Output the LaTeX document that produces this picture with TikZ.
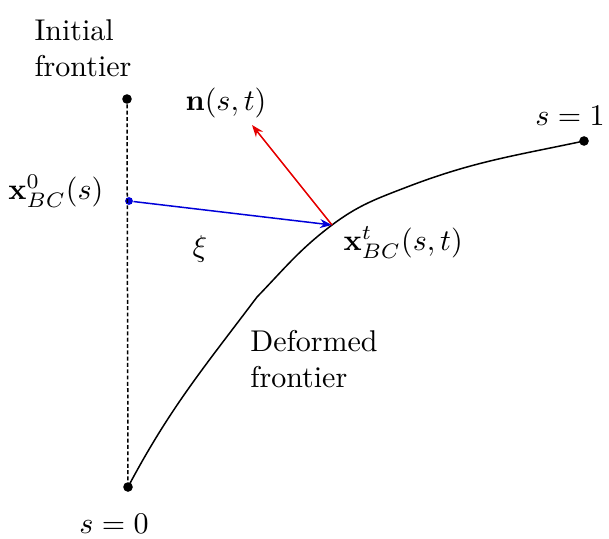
\documentclass[tikz,border=0pt]{standalone}
\usepackage{amsmath,amssymb,amsfonts}
\usepackage{bm}
\usepackage{tikz}
\usetikzlibrary{positioning,arrows.meta,calc}

\begin{document}
\begin{tikzpicture}[
    x=0.0117cm,
    y=-0.0117cm,
    >=stealth,
    label/.style={
        inner sep=0pt,
        align=left
    },
    dotpt/.style={
        circle,
        fill=black,
        inner sep=0pt,
        minimum size=3.2pt
    },
    front/.style={line width=0.5pt},
    initline/.style={line width=0.5pt, dash pattern=on 1.3pt off 0.8pt},
    arr/.style={-{Stealth[length=4pt,width=3pt]}, line width=0.5pt}
]
\useasboundingbox (0,0) rectangle (609,538);

% points on the frontiers
\node[dotpt] (top) at (127,99) {};
\node[dotpt] (bottom) at (128,487) {};
\node[dotpt] (send) at (584,141) {};
\node[dotpt, fill=blue!85!black, minimum size=2.6pt] (xzero) at (129,201) {};
\coordinate (bend) at (257,297);
\coordinate (xt) at (332,225);
\coordinate (upper) at (407,187);
\coordinate (ntip) at (252,125);

% initial frontier
\draw[initline] (top) -- (bottom);

% deformed frontier
\draw[front] (bottom.center) to[out=62,in=233] (bend)
    to[out=46,in=217] (xt)
    to[out=37,in=201] (upper)
    to[out=21,in=192] (send.center);

% displacement and normal
\draw[arr, blue!85!black] (xzero) -- (xt);
\draw[arr, red!90!black] (xt) -- (ntip);

% labels
\node[label] (initlbl) at (83,48)
{Initial\\frontier};
\node[label] (deflbl) at (314,359)
{Deformed\\frontier};
\node[label, anchor=base east] (xzerolbl) at (104,199)
{$\mathbf{x}^0_{BC}(s)$};
\node[label, anchor=base west] (xtlbl) at (343,250)
{$\mathbf{x}^t_{BC}(s,t)$};
\node[label, anchor=base] (nlbl) at (226,110)
{$\mathbf{n}(s,t)$};
\node[label, anchor=base] (xilbl) at (200,256)
{$\xi$};
\node[label, anchor=base] (sonelbl) at (570,125)
{$s=1$};
\node[label, anchor=base] (szerolbl) at (114,533)
{$s=0$};

\end{tikzpicture}
\end{document}
